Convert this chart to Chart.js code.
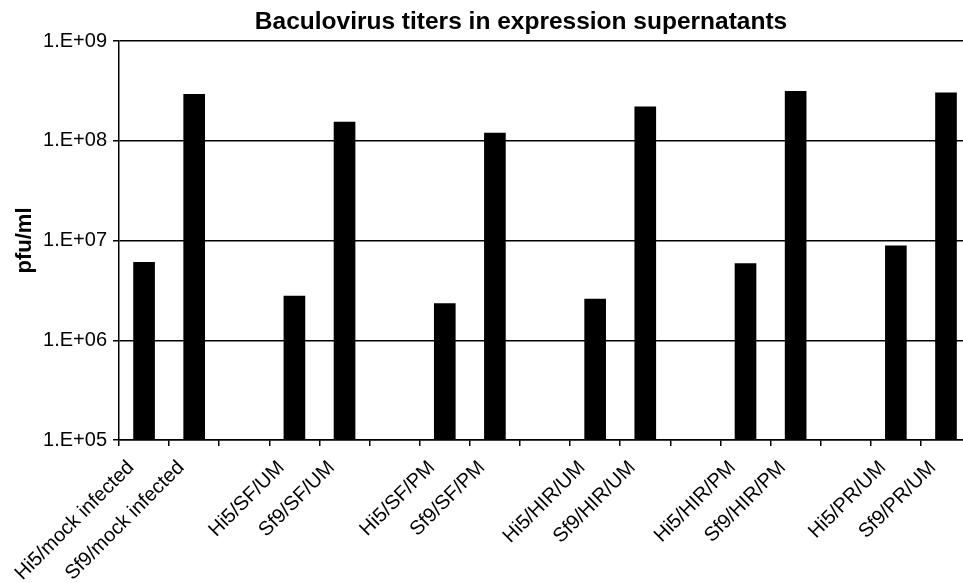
<!DOCTYPE html>
<html>
<head>
<meta charset="utf-8">
<script src="https://cdn.jsdelivr.net/npm/chart.js@4"></script>
<style>
    html, body { margin: 0; padding: 0; overflow: hidden; background: #fff; }
    #wrap { width: 973px; height: 583px; }
</style>
</head>
<body>
<div id="wrap"><canvas id="chart"></canvas></div>
<script>
// ---------- datos ----------
const chartTitle = 'Baculovirus titers in expression supernatants';
const yTitle = 'pfu/ml';

const categories = [
    'Hi5/mock infected', 'Sf9/mock infected', '',
    'Hi5/SF/UM', 'Sf9/SF/UM', '',
    'Hi5/SF/PM', 'Sf9/SF/PM', '',
    'Hi5/HIR/UM', 'Sf9/HIR/UM', '',
    'Hi5/HIR/PM', 'Sf9/HIR/PM', '',
    'Hi5/PR/UM', 'Sf9/PR/UM'
];

const titers = [
    6.1e6, 2.95e8, null,
    2.8e6, 1.55e8, null,
    2.35e6, 1.2e8, null,
    2.6e6, 2.2e8, null,
    5.9e6, 3.15e8, null,
    8.9e6, 3.05e8
];

const yTicks = [1e5, 1e6, 1e7, 1e8, 1e9];

const FONT = "'Liberation Sans', Arial, sans-serif";

// ---------- título ----------
const titlePlugin = {
    id: 'sheetTitle',
    afterDraw(chart) {
        const c = chart.ctx;
        c.save();
        c.font = `bold 24.5px ${FONT}`;
        c.fillStyle = '#000';
        c.textAlign = 'center';
        c.textBaseline = 'alphabetic';
        c.fillText(chartTitle, 521, 29);
        c.restore();
    }
};

const ctx = document.getElementById('chart');

new Chart(ctx, {
    type: 'bar',
    data: {
        labels: categories,
        datasets: [{
            data: titers,
            backgroundColor: '#000',
            borderWidth: 0,
            barPercentage: 0.432,
            categoryPercentage: 1
        }]
    },
    options: {
        responsive: true,
        maintainAspectRatio: false,
        animation: false,
        layout: {
            padding: { top: 41, right: 1, left: 0, bottom: 0 }
        },
        plugins: {
            legend: { display: false },
            tooltip: { enabled: false }
        },
        scales: {
            x: {
                offset: true,
                grid: {
                    offset: true,
                    drawOnChartArea: false,
                    color: '#000',
                    lineWidth: 1.5,
                    tickLength: 6
                },
                border: { color: '#000', width: 1.5 },
                ticks: {
                    color: '#000',
                    font: { family: FONT, size: 20 },
                    minRotation: 45,
                    maxRotation: 45,
                    autoSkip: false,
                    padding: 10,
                    labelOffset: -13
                },
                afterFit: s => { s.height = 143; }
            },
            y: {
                type: 'logarithmic',
                min: 1e5,
                max: 1e9,
                afterBuildTicks: s => { s.ticks = yTicks.map(v => ({ value: v })); },
                afterFit: s => { s.width = 119; },
                ticks: {
                    color: '#000',
                    font: { family: FONT, size: 20 },
                    padding: 6,
                    callback: v => '1.E+' + String(Math.round(Math.log10(v))).padStart(2, '0')
                },
                grid: {
                    color: '#000',
                    lineWidth: 1.5,
                    tickLength: 6
                },
                border: { color: '#000', width: 1.5 },
                title: {
                    display: true,
                    text: yTitle,
                    color: '#000',
                    font: { family: FONT, size: 22, weight: 'bold' },
                    padding: { top: 12, bottom: 0 }
                }
            }
        }
    },
    plugins: [titlePlugin]
});
</script>
</body>
</html>
